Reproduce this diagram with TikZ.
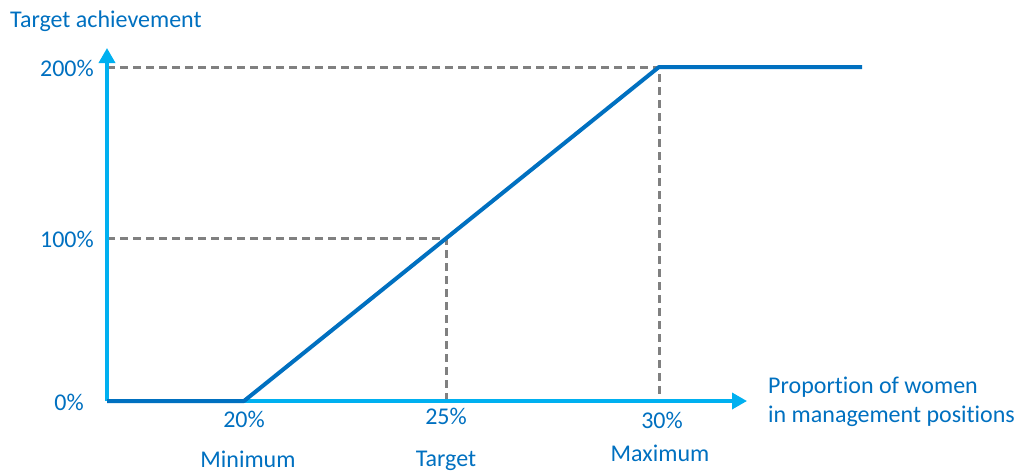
\documentclass[tikz,border=0pt]{standalone}
\usepackage{fontspec}
\setmainfont{Carlito}[Ligatures=NoCommon]
\usetikzlibrary{arrows.meta}
\definecolor{darkline}{HTML}{0070C0}
\definecolor{axisblue}{HTML}{00B0F0}
\definecolor{guidegray}{HTML}{808080}
\tikzset{
    axisline/.style={draw=axisblue,line width=3.5pt,-{Triangle[length=15pt,width=16pt]}},
    guide/.style={draw=guidegray,line width=3pt,dash pattern=on 8pt off 5pt},
    curve/.style={draw=darkline,line width=4pt,line join=round},
    lbl/.style={text=darkline,font=\fontsize{24}{29}\selectfont,inner sep=0pt}
}
\begin{document}
\begin{tikzpicture}[x=1pt,y=-1pt]
                    \useasboundingbox (0,0) rectangle (1016,474);

                    \coordinate (O) at (107,401);
                    \coordinate (ytip) at (107,48);
                    \coordinate (xtip) at (747,401);
                    \coordinate (minp) at (244,401);
                    \coordinate (tgtp) at (446,238);
                    \coordinate (maxp) at (659,67);
                    \coordinate (endp) at (862,67);

                    % guides
                    \draw[guide] (107,67) -- (maxp) -- (659,401);
                    \draw[guide] (107,238) -- (tgtp) -- (446,401);

                    \draw[axisline] (O) -- (xtip);
                    \draw[axisline] (O) -- (ytip);

                    \draw[curve] (O) -- (minp) -- (maxp) -- (endp);

                    \node[lbl,anchor=west] (ylab) at (10,21) {Target achievement};
                    \node[lbl,anchor=east] (y200) at (94,68) {200\%};
                    \node[lbl,anchor=east] (y100) at (94,239) {100\%};
                    \node[lbl,anchor=east] (y0) at (84,402) {0\%};

                    \node[lbl] (x20) at (244,419) {20\%};
                    \node[lbl] (x25) at (446,416) {25\%};
                    \node[lbl] (x30) at (662,420) {30\%};
                    \node[lbl] (nmin) at (248,459) {Minimum};
                    \node[lbl] (ntgt) at (446,461) {Target};
                    \node[lbl] (nmax) at (660,453) {Maximum};

                    \node[lbl,anchor=west,align=left] (xlab) at (768,402) {Proportion of women\\in management positions};

                \end{tikzpicture}
\end{document}
